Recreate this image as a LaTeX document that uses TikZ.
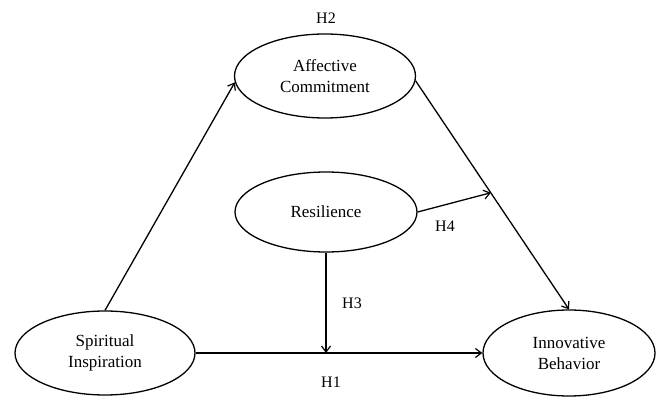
\documentclass[tikz,border=0pt]{standalone}
\usepackage{fontspec}
\setmainfont{Liberation Serif}
\usetikzlibrary{shapes.geometric,arrows.meta}
\begin{document}
\begin{tikzpicture}[x=1pt,y=-1pt,
  construct/.style={ellipse,draw,line width=1.3pt,inner sep=0pt,align=center,
    font=\fontsize{17}{21}\selectfont},
  hlabel/.style={inner sep=0pt,font=\fontsize{16}{19}\selectfont},
  link/.style={line width=1.3pt,-{Straight Barb[length=6pt,width=9pt,line width=1.2pt]}}]
\useasboundingbox (0,0) rectangle (656,398);
\node[construct,minimum width=181pt,minimum height=84pt] (ac) at (325,76) {Affective\\Commitment};
\node[construct,minimum width=182pt,minimum height=80pt] (rs) at (326,212) {Resilience};
\node[construct,minimum width=180pt,minimum height=84pt] (sp) at (105,353) {Spiritual\\Inspiration};
\node[construct,minimum width=172pt,minimum height=86pt] (in) at (569,353) {Innovative\\Behavior};
\draw[link] (sp.north) -- (ac.184);
\draw[link] (ac.-3) -- (in.north) coordinate[pos=0.49] (m);
\draw[link] (rs.east) -- (m);
\draw[link] (sp.east) -- (in.west);
\draw[link] (rs.south) -- (rs.south |- sp.east);
\node[hlabel] (h2) at (326,18) {H2};
\node[hlabel] (h4) at (445,226) {H4};
\node[hlabel] (h3) at (352,303) {H3};
\node[hlabel] (h1) at (331,382) {H1};
\end{tikzpicture}
\end{document}
